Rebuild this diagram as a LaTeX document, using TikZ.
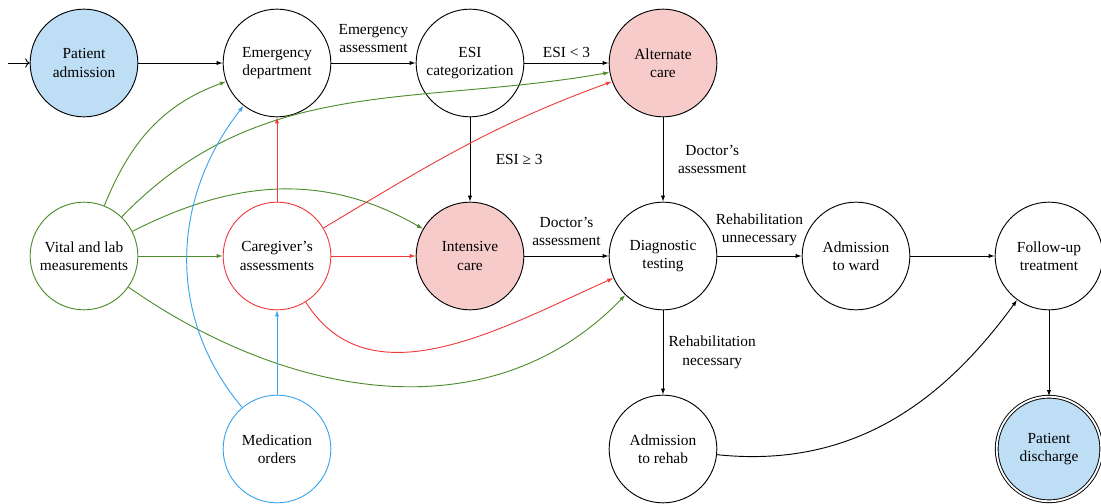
\documentclass[tikz,border=0pt]{standalone}
\usepackage{fontspec}
\setmainfont{Liberation Serif}
\usetikzlibrary{arrows.meta}
\definecolor{cgreen}{HTML}{4E8C2B}
\definecolor{cred}{HTML}{EE3B3B}
\definecolor{cblue}{HTML}{3BA3EC}
\definecolor{fblue}{HTML}{BEDEF6}
\definecolor{fpink}{HTML}{F8CBCB}
\begin{document}
\begin{tikzpicture}[x=0.65pt,y=-0.65pt,
  stnode/.style={circle,draw,line width=0.6pt,minimum size=70pt,inner sep=0pt,align=center},
  edge/.style={line width=0.6pt,-{Latex[length=4pt,width=2.8pt]}},
  gedge/.style={edge,cgreen},
  redge/.style={edge,cred},
  bedge/.style={edge,cblue},
  lbl/.style={align=center},
  vlbl/.style={lbl,midway,xshift=32pt},
  hlbl/.style={lbl,midway,above},
  hlbltwo/.style={hlbl,yshift=3pt}]
\useasboundingbox (0,0) rectangle (1101,504);
% nodes
\node[stnode,fill=fblue] (PA) at (84,63) {Patient\\admission};
\node[stnode] (ED) at (277,63) {Emergency\\department};
\node[stnode] (ESI) at (470,63) {ESI\\categorization};
\node[stnode,fill=fpink] (AC) at (663,63) {Alternate\\care};
\node[stnode,draw=cgreen] (VL) at (84,256) {Vital and lab\\measurements};
\node[stnode,draw=cred] (CG) at (277,256) {Caregiver’s\\assessments};
\node[stnode,fill=fpink] (IC) at (470,256) {Intensive\\care};
\node[stnode] (DT) at (663,256) {Diagnostic\\testing};
\node[stnode] (AW) at (856,256) {Admission\\to ward};
\node[stnode] (FU) at (1049,256) {Follow-up\\treatment};
\node[stnode,draw=cblue] (MO) at (277,449) {Medication\\orders};
\node[stnode] (AR) at (663,449) {Admission\\to rehab};
\node[stnode,fill=fblue,double,double distance=1.2pt,minimum size=68pt] (PD) at (1049,449) {Patient\\discharge};
\coordinate (init) at (8,63);
% black edges
\draw[line width=0.6pt,->] (init) -- (PA);
\draw[edge] (PA) -- (ED);
\draw[edge] (ED) -- node[hlbltwo] {Emergency\\assessment} (ESI);
\draw[edge] (ESI) -- node[hlbl] {ESI < 3} (AC);
\draw[edge] (ESI) -- node[vlbl] {ESI ≥ 3} (IC);
\draw[edge] (AC) -- node[vlbl] {Doctor’s\\assessment} (DT);
\draw[edge] (IC) -- node[hlbltwo] {Doctor’s\\assessment} (DT);
\draw[edge] (DT) -- node[hlbltwo] {Rehabilitation\\unnecessary} (AW);
\draw[edge] (AW) -- (FU);
\draw[edge] (DT) -- node[vlbl] {Rehabilitation\\necessary} (AR);
\draw[edge] (AR) to[out=-6,in=234] (FU);
\draw[edge] (FU) -- (PD);
% green edges
\draw[gedge] (VL) to[out=68,in=200] (ED);
\draw[gedge] (VL) to[out=46,in=190] (AC);
\draw[gedge] (VL) to[out=27,in=150] (IC);
\draw[gedge] (VL) -- (CG);
\draw[gedge] (VL) to[out=-35,in=226] (DT);
% red edges
\draw[redge] (CG) -- (ED);
\draw[redge] (CG) to[out=31,in=200] (AC);
\draw[redge] (CG) -- (IC);
\draw[redge] (CG) to[out=-58,in=204] (DT);
% blue edges
\draw[bedge] (MO) -- (CG);
\draw[bedge] (MO) to[out=130,in=232] (ED);
\end{tikzpicture}
\end{document}
